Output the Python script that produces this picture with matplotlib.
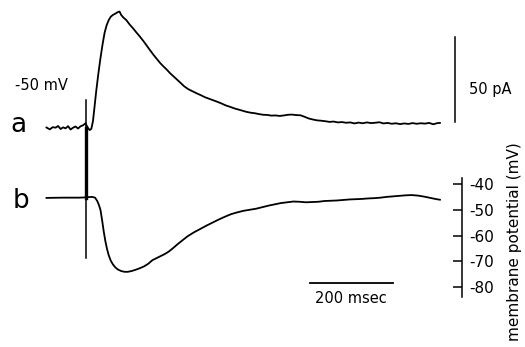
import numpy as np
import matplotlib
matplotlib.use("Agg")
import matplotlib.pyplot as plt

plt.rcParams['font.family'] = ['DejaVu Sans']
plt.rcParams['axes.unicode_minus'] = False

# trace a: membrane current (pA) at a holding potential of -50 mV
time_a = [-100, -92, -85, -78, -72, -66, -60, -54, -48, -42, -36, -30, -24, -18,
          -12, -6, 0, 4, 8, 12, 16, 20, 25, 30, 35, 40, 45, 50, 55, 60, 66, 72, 76,
          80, 86, 92, 100, 108, 116, 125, 134, 142, 150, 158, 166, 174, 182, 190,
          198, 206, 214, 222, 232, 242, 252, 262, 272, 282, 292, 302, 312, 322,
          332, 342, 352, 362, 372, 382, 392, 402, 412, 422, 432, 442, 452, 462,
          472, 482, 492, 502, 512, 522, 532, 542, 552, 562, 572, 582, 592, 602,
          612, 622, 632, 642, 652, 662, 672, 682, 692, 702, 712, 722, 732, 742,
          752, 762, 772, 782, 792, 802, 812, 822, 832, 842, 848]
current_a = [0.3, -0.8, 0.5, 0.2, 1.2, -0.6, 0.4, -0.2, 1.1, -0.9, 0.2, 0.9, -0.3,
             1.0, 1.6, 2.8, 0.0, -1.2, -0.5, 4, 13, 22, 32, 41, 49, 56, 60.5, 63.5,
             65.5, 66.5, 67.3, 68.2, 68.5, 66.5, 64.8, 63.6, 61.0, 58.8, 56.4, 53.8,
             51.0, 48.3, 45.6, 43.0, 40.6, 38.2, 36.2, 34.3, 32.2, 30.4, 28.6, 26.8,
             24.5, 22.8, 21.6, 20.4, 19.3, 18.1, 17.2, 16.3, 15.4, 14.4, 13.3, 12.5,
             11.6, 10.9, 10.2, 9.5, 9.0, 8.7, 8.2, 7.8, 7.7, 7.3, 7.4, 7.1, 7.4, 7.8,
             7.9, 7.6, 7.5, 6.6, 5.6, 5.0, 4.5, 4.3, 4.0, 3.6, 3.8, 3.3, 3.5, 3.1,
             3.3, 2.7, 3.2, 2.8, 3.3, 2.9, 3.1, 3.4, 2.7, 3.0, 2.5, 2.8, 2.3, 2.7,
             2.4, 2.9, 2.5, 2.8, 2.6, 3.0, 2.2, 2.9, 3.0]

# trace b: membrane potential (mV) in current clamp
time_b = [-100, -60, -20, -8, 0, 10, 17, 22, 26, 30, 34, 38, 42, 46, 50, 55, 60,
          66, 72, 80, 88, 96, 105, 115, 125, 135, 145, 155, 165, 175, 185, 195,
          205, 215, 225, 240, 255, 270, 285, 300, 315, 330, 345, 360, 375, 390,
          405, 420, 435, 450, 465, 480, 495, 510, 525, 540, 555, 570, 585, 600,
          615, 630, 645, 660, 675, 690, 705, 720, 735, 750, 765, 780, 795, 810,
          825, 840, 848]
potential_b = [-45.4, -45.3, -45.3, -45.2, -45.1, -45.0, -45.3, -46.5, -48.0, -50.0,
               -54.0, -58.5, -62.3, -65.3, -67.7, -69.8, -71.2, -72.4, -73.2, -73.8,
               -74.1, -74.1, -73.8, -73.3, -72.7, -72.0, -71.0, -69.6, -68.8, -68.0,
               -67.2, -66.2, -64.9, -63.5, -62.2, -60.3, -58.8, -57.5, -56.2, -55.0,
               -53.8, -52.7, -51.7, -51.0, -50.4, -50.0, -49.6, -49.0, -48.4, -47.9,
               -47.4, -47.1, -46.8, -46.9, -47.1, -47.0, -46.9, -46.6, -46.5, -46.4,
               -46.2, -46.0, -45.9, -45.8, -45.6, -45.5, -45.3, -45.0, -44.8, -44.6,
               -44.4, -44.3, -44.5, -44.9, -45.4, -45.9, -46.1]

mv_ticks = [-40, -50, -60, -70, -80]
stim_time = -5
current_bar = 50      # pA
time_bar = 200        # ms

fig = plt.figure(figsize=(5.25, 3.47), dpi=100)
fig.patch.set_facecolor('white')

# both traces share the same time base; each gets its own vertical scale
ax_a = fig.add_axes([0, 0, 1, 1])
ax_a.set_xlim(-212, 1053)
ax_a.set_ylim(-128.8, 75.3)
ax_a.axis('off')

ax_b = fig.add_axes([0, 0, 1, 1])
ax_b.patch.set_alpha(0)
ax_b.set_xlim(-212, 1053)
ax_b.set_ylim(-103.3, 31.46)

line_kw = dict(color='black', lw=1.3, solid_joinstyle='round')
ax_a.plot(time_a, current_a, **line_kw)
ax_b.plot(time_b, potential_b, **line_kw)

# stimulus artifact crossing both traces
ax_a.plot([stim_time, stim_time], [16.5, -76.5], color='black', lw=1.1)
ax_a.plot([stim_time, stim_time], [0, -41], color='black', lw=2.4)

# current scale bar
ax_a.plot([884, 884], [3.5, 3.5 + current_bar], color='black', lw=1.1)
fig.text(469 / 525, 1 - 94 / 347, '50 pA', fontsize=10.5, ha='left', va='baseline')

# time scale bar
ax_b.plot([535, 535 + time_bar], [-78.4, -78.4], color='black', lw=1.3)
fig.text(351 / 525, 1 - 303 / 347, '200 msec', fontsize=10.5, ha='center', va='baseline')

# membrane potential scale as the right spine of the lower trace
for side in ['top', 'bottom', 'left']:
    ax_b.spines[side].set_visible(False)
ax_b.spines['right'].set_position(('data', 901))
ax_b.spines['right'].set_bounds(-84, -37.7)
ax_b.spines['right'].set_linewidth(1.1)
ax_b.xaxis.set_visible(False)
ax_b.yaxis.tick_right()
ax_b.set_yticks(mv_ticks)
ax_b.set_yticklabels([str(v) for v in mv_ticks])
ax_b.tick_params(axis='y', direction='in', length=6.5, width=1.1, pad=5,
                 labelsize=11)
fig.text(515 / 525, 1 - 241.5 / 347, 'membrane potential (mV)', fontsize=11,
         rotation=90, ha='center', va='center')

# trace labels
fig.text(15 / 525, 1 - 90 / 347, '-50 mV', fontsize=10.5, ha='left', va='baseline')
fig.text(18 / 525, 1 - 132 / 347, 'a', fontsize=19, ha='center', va='baseline')
fig.text(21 / 525, 1 - 208 / 347, 'b', fontsize=19, ha='center', va='baseline')

fig.savefig('out.png', dpi=100, facecolor='white')
